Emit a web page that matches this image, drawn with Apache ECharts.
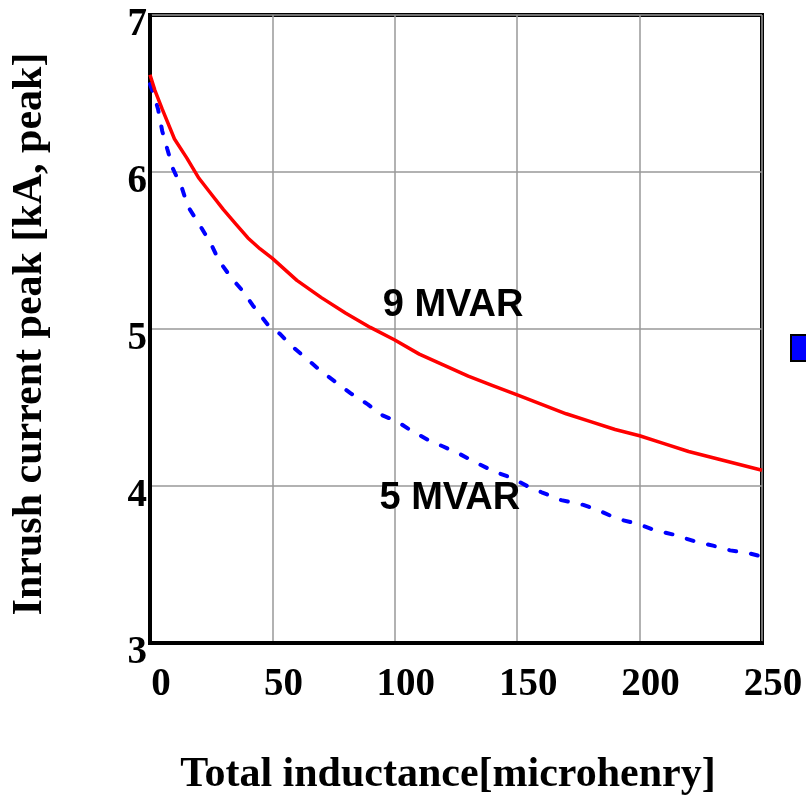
<!DOCTYPE html>
<html>
<head>
<meta charset="utf-8">
<script src="https://cdn.jsdelivr.net/npm/echarts@6/dist/echarts.min.js"></script>
<style>html,body{margin:0;padding:0;background:#fff;}#c{width:806px;height:801px;}</style>
</head>
<body>
<div id="c"></div>
<script>
// Data
const redName = '9 MVAR';
const redX = [0, 2, 5, 10, 15, 20, 25, 30, 35, 40, 45, 50, 60, 70, 80, 90, 100, 110, 120, 130, 140, 150, 160, 170, 180, 190, 200, 210, 220, 230, 240, 250];
const redY = [6.62, 6.52, 6.40, 6.21, 6.09, 5.96, 5.86, 5.76, 5.67, 5.58, 5.51, 5.45, 5.31, 5.20, 5.10, 5.01, 4.93, 4.84, 4.77, 4.70, 4.64, 4.58, 4.52, 4.46, 4.41, 4.36, 4.32, 4.27, 4.22, 4.18, 4.14, 4.10];

const blueName = '5 MVAR';
const blueX = [0, 2, 3.3, 5, 7, 9.4, 13, 15.5, 20, 25, 28, 33, 38, 42, 48, 53, 58, 64, 70, 76, 82, 89, 95, 101, 107, 114, 120, 127, 133, 141, 148, 154, 160, 168, 177, 184, 191, 199, 206, 214, 222, 230, 237, 245, 250];
const blueY = [6.56, 6.47, 6.40, 6.26, 6.15, 6.02, 5.90, 5.78, 5.67, 5.54, 5.44, 5.33, 5.24, 5.15, 5.03, 4.97, 4.89, 4.81, 4.73, 4.66, 4.59, 4.52, 4.45, 4.41, 4.35, 4.29, 4.25, 4.20, 4.15, 4.09, 4.05, 4.00, 3.96, 3.91, 3.88, 3.84, 3.79, 3.76, 3.72, 3.69, 3.65, 3.62, 3.59, 3.57, 3.55];

const annoText = ['9 MVAR', '5 MVAR'];
const annoX = [123.8, 122.5];
const annoY = [5.148, 3.922];

const xMin = 0, xMax = 250, xStep = 50;
const yMin = 3, yMax = 7, yStep = 1;
const xTitle = 'Total inductance[microhenry]';
const yTitle = 'Inrush current peak [kA, peak]';

const serif = '"Liberation Serif", "Times New Roman", serif';
const sans = '"Liberation Sans", Arial, sans-serif';

const chart = echarts.init(document.getElementById('c'), null, {renderer: 'canvas'});
const zip = (xs, ys) => xs.map((x, i) => [x, ys[i]]);

chart.setOption({
  animation: false,
  backgroundColor: '#fff',
  grid: {left: 150, right: 44, top: 15, bottom: 156, show: true, borderColor: '#000', borderWidth: 4, containLabel: false},
  legend: {
    left: 790, top: 334, padding: 0, itemWidth: 26, itemHeight: 26, orient: 'vertical',
    data: [{name: blueName, icon: 'rect', itemStyle: {color: '#0000ff', borderColor: '#000', borderWidth: 2}}],
    textStyle: {fontSize: 24, fontFamily: sans, color: '#000'}
  },
  xAxis: {
    type: 'value', min: xMin, max: xMax, interval: xStep,
    name: xTitle, nameLocation: 'middle', nameGap: 111,
    nameTextStyle: {fontFamily: serif, fontWeight: 'bold', fontSize: 42, color: '#000', padding: [0, 16, 0, 0]},
    axisLine: {show: true, lineStyle: {color: '#000', width: 4}},
    axisTick: {show: false},
    splitLine: {show: true, lineStyle: {color: '#999', width: 1.5}},
    axisLabel: {fontFamily: serif, fontWeight: 'bold', fontSize: 39, color: '#000', margin: 22, padding: [0, 0, 0, 22]}
  },
  yAxis: {
    type: 'value', min: yMin, max: yMax, interval: yStep,
    name: yTitle, nameLocation: 'middle', nameGap: 99, nameRotate: 90,
    nameTextStyle: {fontFamily: serif, fontWeight: 'bold', fontSize: 42, color: '#000', padding: [0, 10, 0, 0]},
    axisLine: {show: true, lineStyle: {color: '#000', width: 4}},
    axisTick: {show: false},
    splitLine: {show: true, lineStyle: {color: '#999', width: 1.5}},
    axisLabel: {fontFamily: serif, fontWeight: 'bold', fontSize: 39, color: '#000', margin: 3, verticalAlign: 'top', lineHeight: 20}
  },
  series: [
    {
      name: redName, type: 'line', data: zip(redX, redY), showSymbol: false, symbol: 'none',
      lineStyle: {color: '#ff0000', width: 3.5}, z: 3,
      markPoint: {
        symbol: 'circle', symbolSize: 0,
        label: {show: true, formatter: p => p.name, fontFamily: sans, fontWeight: 'bold', fontSize: 38, color: '#000', position: 'inside'},
        data: annoText.map((t, i) => ({name: t, coord: [annoX[i], annoY[i]]}))
      }
    },
    {
      name: blueName, type: 'line', data: zip(blueX, blueY), showSymbol: false, symbol: 'none',
      lineStyle: {color: '#0000ff', width: 4, type: [7, 15], cap: 'round'}, z: 2
    }
  ]
});
</script>
</body>
</html>
